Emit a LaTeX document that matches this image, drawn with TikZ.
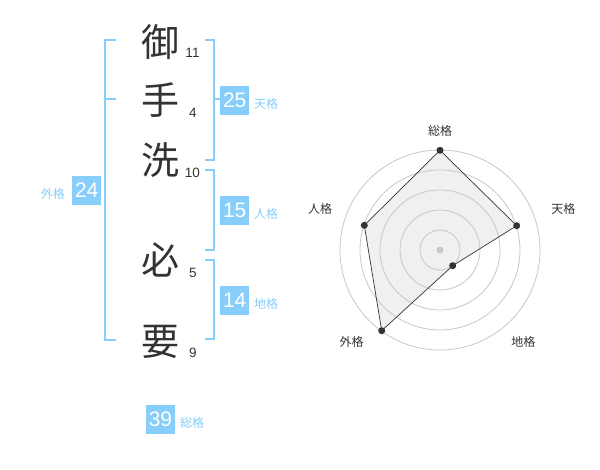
\documentclass[tikz,border=0pt]{standalone}
\usepackage{fontspec}
\setmainfont{Liberation Sans}
\newfontfamily\jpfont{Noto Sans CJK JP}
\definecolor{skyline}{HTML}{87CEFA}
\definecolor{inkgray}{HTML}{333333}
\begin{document}
\begin{tikzpicture}[x=1pt,y=-1pt]
	\tikzset{kanji/.style={font=\jpfont\fontsize{38}{38}\selectfont, text=inkgray, inner sep=0pt},
		stroke/.style={font=\fontsize{13.5}{13.5}\selectfont, text=inkgray, inner sep=0pt},
		scorebox/.style={fill=skyline, text=white, minimum width=29pt, minimum height=29pt, inner sep=0pt, font=\fontsize{21}{21}\selectfont},
		scorename/.style={font=\jpfont\fontsize{12}{12}\selectfont, text=skyline, inner sep=0pt},
		bracket/.style={draw=skyline, line width=2pt},
		ring/.style={draw=black!22, line width=0.8pt},
		axisname/.style={font=\jpfont\fontsize{12}{12}\selectfont, text=inkgray, inner sep=0pt},
		vertex/.style={circle, fill=inkgray, inner sep=0pt, minimum size=7pt}}
	\useasboundingbox (0,0) rectangle (600,470);
	
	%% NAME CHARACTERS
	\node[kanji] (C1) at (160,42) {御};
	\node[kanji] (C2) at (160,100) {手};
	\node[kanji] (C3) at (160,160) {洗};
	\node[kanji] (C4) at (160,260) {必};
	\node[kanji] (C5) at (160,342) {要};
	\node[stroke] (S1) at (192.5,53) {11};
	\node[stroke] (S2) at (193,113) {4};
	\node[stroke] (S3) at (192.5,172.5) {10};
	\node[stroke] (S4) at (193,272.5) {5};
	\node[stroke] (S5) at (193,353) {9};
	
	%% BRACKETS
	\draw[bracket] (116,40) -- (105,40) -- (105,340) -- (116,340);
	\draw[bracket] (105,99.5) -- (116,99.5);
	\draw[bracket] (205,40) -- (214,40) -- (214,160) -- (205,160);
	\draw[bracket] (214,99.5) -- (223,99.5);
	\draw[bracket] (205,170) -- (214,170) -- (214,250) -- (205,250);
	\draw[bracket] (205,260) -- (214,260) -- (214,339.5) -- (205,339.5);
	
	%% SCORES
	\node[scorebox] (Ten) at (234.7,100.5) {25};
	\node[scorename, anchor=west] (TenN) at (254,104) {天格};
	\node[scorebox] (Jin) at (234.7,210.5) {15};
	\node[scorename, anchor=west] (JinN) at (254,214) {人格};
	\node[scorebox] (Chi) at (234.7,300.5) {14};
	\node[scorename, anchor=west] (ChiN) at (254,304) {地格};
	\node[scorebox] (Gai) at (86.7,190.3) {24};
	\node[scorename, anchor=east] (GaiN) at (65,194) {外格};
	\node[scorebox] (Sou) at (160.5,419.3) {39};
	\node[scorename, anchor=west] (SouN) at (180,423) {総格};
	
	%% RADAR CHART
	\coordinate (O) at (440,250);
	\coordinate (PSou) at (440,150.3);
	\coordinate (PTen) at (516.7,225.7);
	\coordinate (PChi) at (452.7,265.7);
	\coordinate (PGai) at (381.7,330.7);
	\coordinate (PJin) at (364.3,225.3);
	\fill[black!6] (PSou) -- (PTen) -- (PChi) -- (PGai) -- (PJin) -- cycle;
	\foreach \r in {20,40,60,80,100} {\draw[ring] (O) circle (\r);}
	\fill[black!22] (O) circle (3.5);
	\draw[draw=inkgray, line width=0.7pt] (PSou) -- (PTen) -- (PChi) -- (PGai) -- (PJin) -- cycle;
	\foreach \p in {PSou,PTen,PChi,PGai,PJin} {\node[vertex] at (\p) {};}
	\node[axisname] (ASou) at (440,130.5) {総格};
	\node[axisname] (ATen) at (563.3,209) {天格};
	\node[axisname] (AJin) at (320,209) {人格};
	\node[axisname] (AGai) at (351.7,342.3) {外格};
	\node[axisname] (AChi) at (523.3,342.3) {地格};
	
\end{tikzpicture}
\end{document}
